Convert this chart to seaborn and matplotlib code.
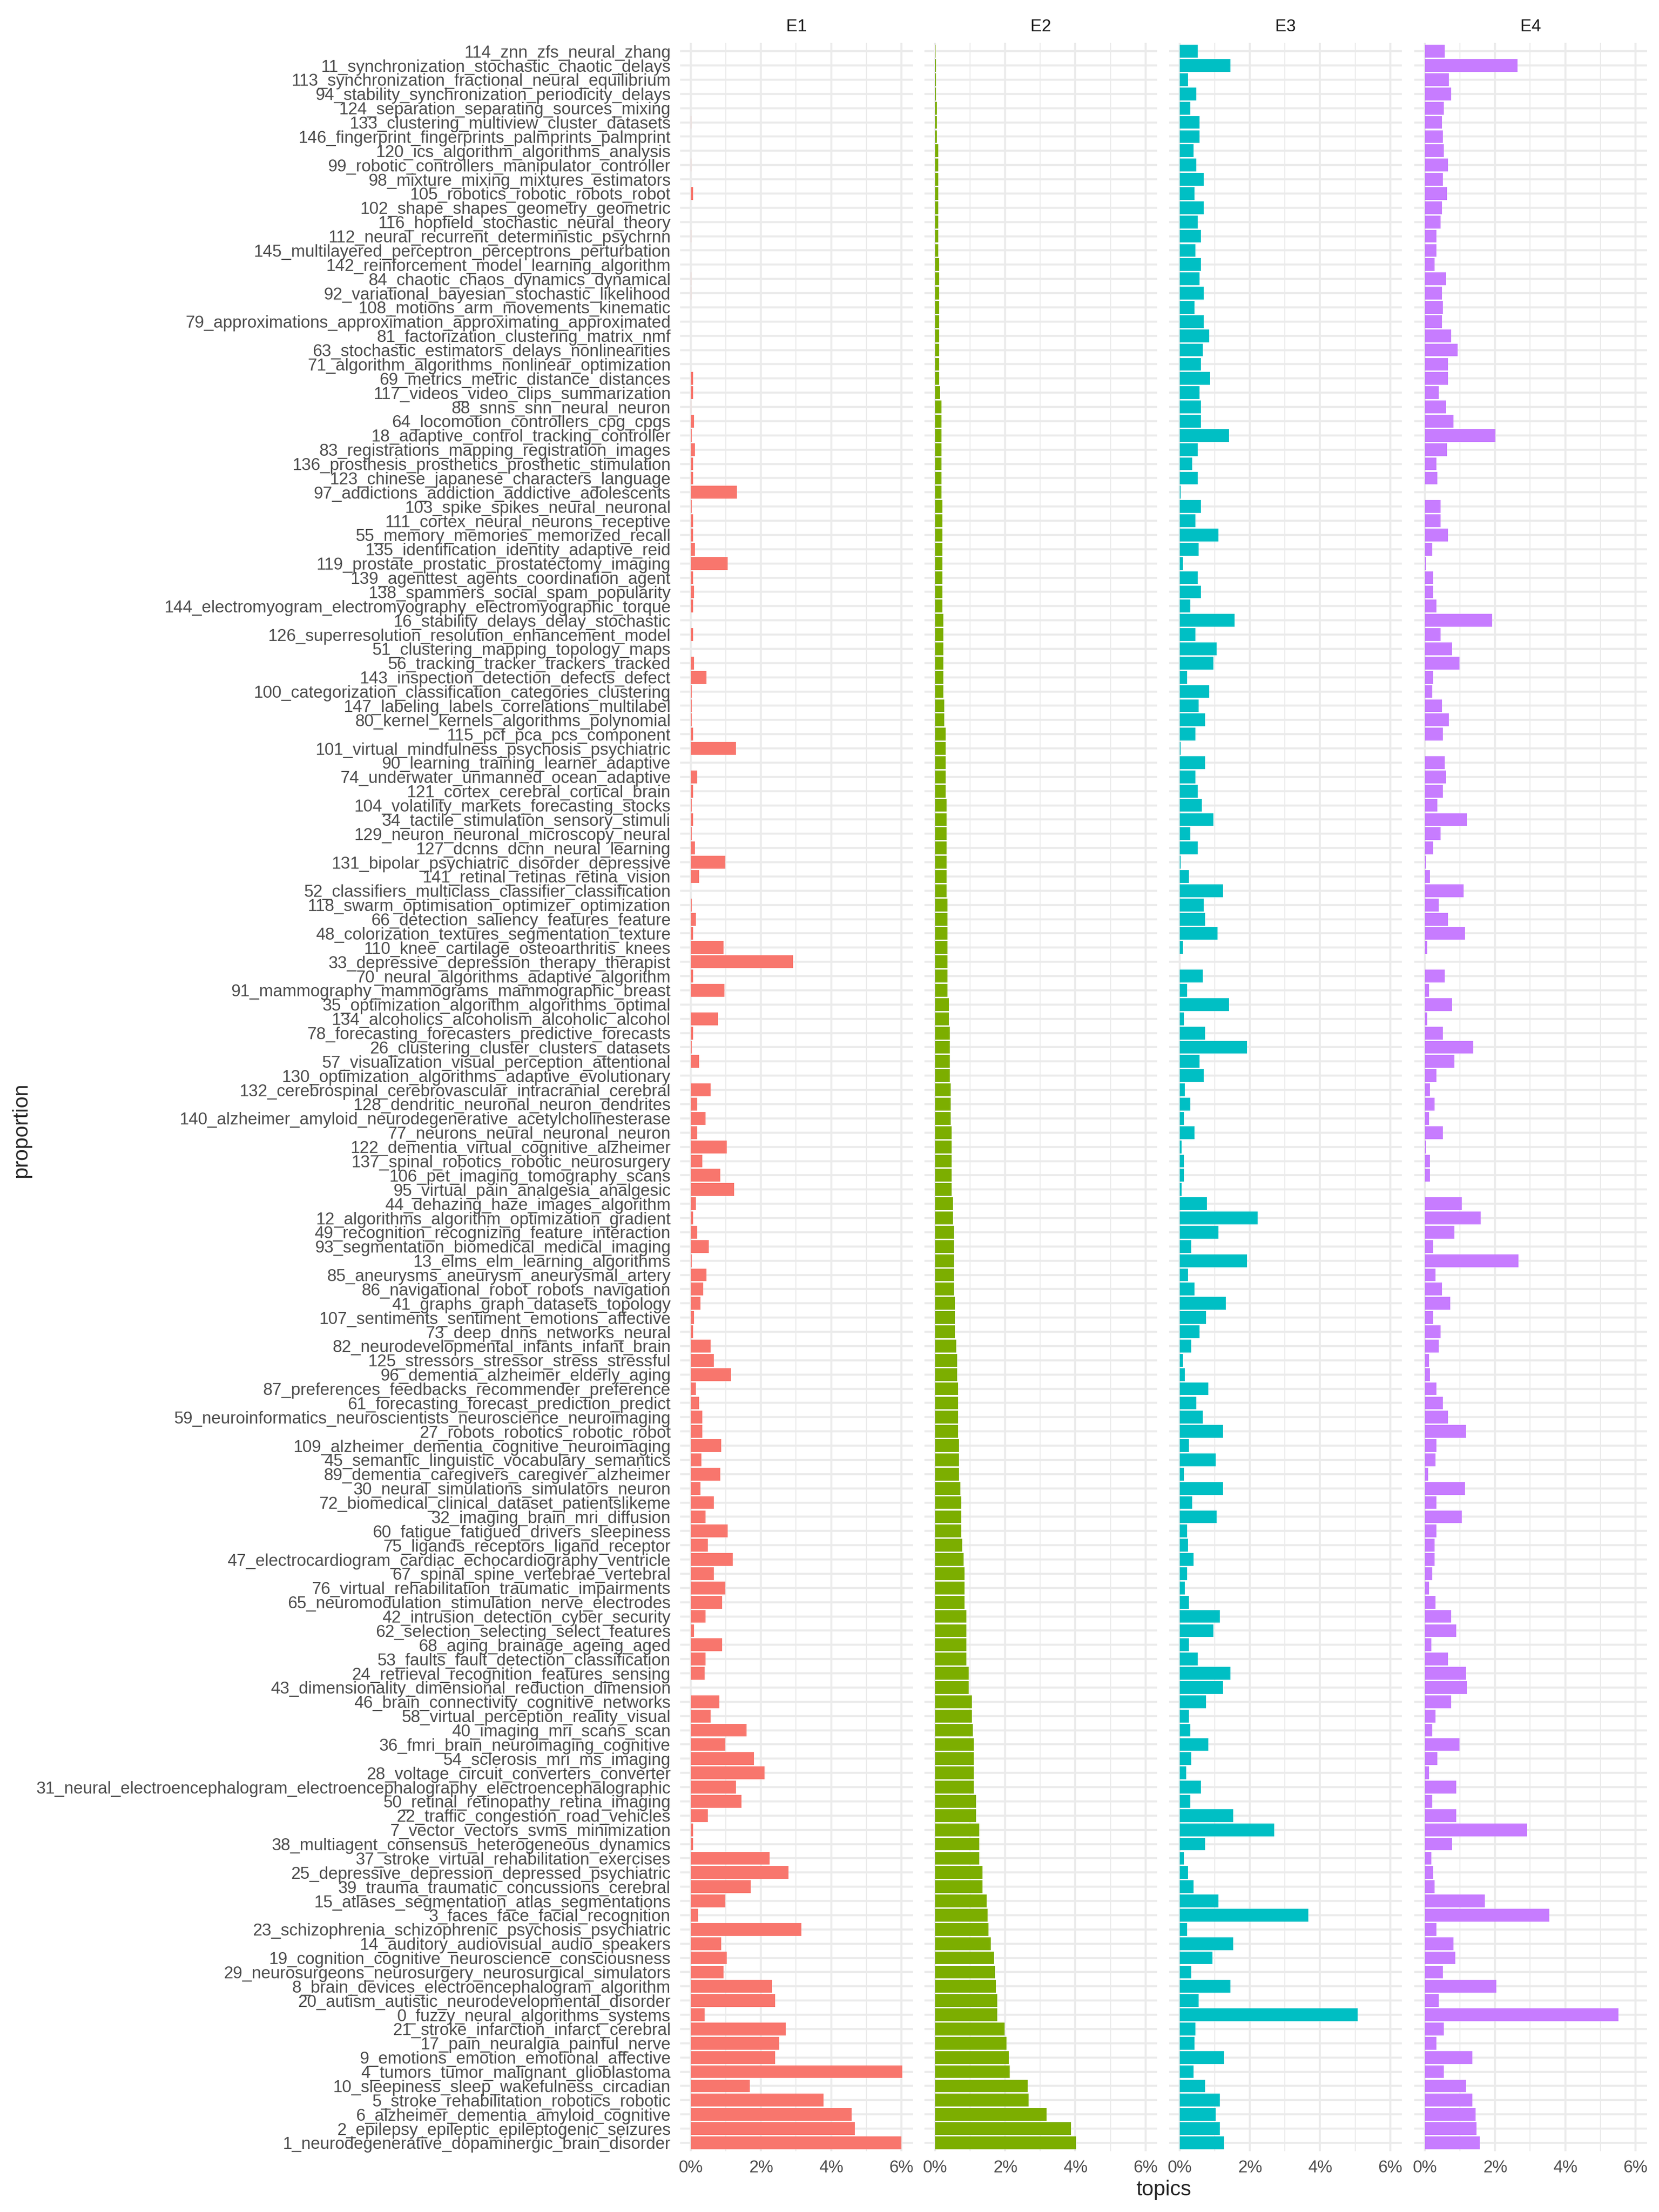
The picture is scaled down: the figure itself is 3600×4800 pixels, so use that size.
import pandas as pd
import seaborn as sns
import matplotlib.pyplot as plt
from matplotlib.ticker import FixedLocator, FuncFormatter

sns.set_theme(style="white")
plt.rcParams['font.family'] = ['Liberation Sans', 'DejaVu Sans']

# topics listed top -> bottom as they appear in the chart (ordered by E2)
topics = [
    '114_znn_zfs_neural_zhang', '11_synchronization_stochastic_chaotic_delays',
    '113_synchronization_fractional_neural_equilibrium', '94_stability_synchronization_periodicity_delays',
    '124_separation_separating_sources_mixing', '133_clustering_multiview_cluster_datasets',
    '146_fingerprint_fingerprints_palmprints_palmprint', '120_ics_algorithm_algorithms_analysis',
    '99_robotic_controllers_manipulator_controller', '98_mixture_mixing_mixtures_estimators',
    '105_robotics_robotic_robots_robot', '102_shape_shapes_geometry_geometric',
    '116_hopfield_stochastic_neural_theory', '112_neural_recurrent_deterministic_psychrnn',
    '145_multilayered_perceptron_perceptrons_perturbation', '142_reinforcement_model_learning_algorithm',
    '84_chaotic_chaos_dynamics_dynamical', '92_variational_bayesian_stochastic_likelihood',
    '108_motions_arm_movements_kinematic', '79_approximations_approximation_approximating_approximated',
    '81_factorization_clustering_matrix_nmf', '63_stochastic_estimators_delays_nonlinearities',
    '71_algorithm_algorithms_nonlinear_optimization', '69_metrics_metric_distance_distances',
    '117_videos_video_clips_summarization',
    '88_snns_snn_neural_neuron', '64_locomotion_controllers_cpg_cpgs',
    '18_adaptive_control_tracking_controller', '83_registrations_mapping_registration_images',
    '136_prosthesis_prosthetics_prosthetic_stimulation', '123_chinese_japanese_characters_language',
    '97_addictions_addiction_addictive_adolescents', '103_spike_spikes_neural_neuronal',
    '111_cortex_neural_neurons_receptive', '55_memory_memories_memorized_recall',
    '135_identification_identity_adaptive_reid', '119_prostate_prostatic_prostatectomy_imaging',
    '139_agenttest_agents_coordination_agent', '138_spammers_social_spam_popularity',
    '144_electromyogram_electromyography_electromyographic_torque', '16_stability_delays_delay_stochastic',
    '126_superresolution_resolution_enhancement_model', '51_clustering_mapping_topology_maps',
    '56_tracking_tracker_trackers_tracked', '143_inspection_detection_defects_defect',
    '100_categorization_classification_categories_clustering', '147_labeling_labels_correlations_multilabel',
    '80_kernel_kernels_algorithms_polynomial', '115_pcf_pca_pcs_component',
    '101_virtual_mindfulness_psychosis_psychiatric', '90_learning_training_learner_adaptive',
    '74_underwater_unmanned_ocean_adaptive', '121_cortex_cerebral_cortical_brain',
    '104_volatility_markets_forecasting_stocks', '34_tactile_stimulation_sensory_stimuli',
    '129_neuron_neuronal_microscopy_neural', '127_dcnns_dcnn_neural_learning',
    '131_bipolar_psychiatric_disorder_depressive', '141_retinal_retinas_retina_vision',
    '52_classifiers_multiclass_classifier_classification', '118_swarm_optimisation_optimizer_optimization',
    '66_detection_saliency_features_feature', '48_colorization_textures_segmentation_texture',
    '110_knee_cartilage_osteoarthritis_knees', '33_depressive_depression_therapy_therapist',
    '70_neural_algorithms_adaptive_algorithm', '91_mammography_mammograms_mammographic_breast',
    '35_optimization_algorithm_algorithms_optimal', '134_alcoholics_alcoholism_alcoholic_alcohol',
    '78_forecasting_forecasters_predictive_forecasts', '26_clustering_cluster_clusters_datasets',
    '57_visualization_visual_perception_attentional', '130_optimization_algorithms_adaptive_evolutionary',
    '132_cerebrospinal_cerebrovascular_intracranial_cerebral',
    '128_dendritic_neuronal_neuron_dendrites', '140_alzheimer_amyloid_neurodegenerative_acetylcholinesterase',
    '77_neurons_neural_neuronal_neuron', '122_dementia_virtual_cognitive_alzheimer',
    '137_spinal_robotics_robotic_neurosurgery', '106_pet_imaging_tomography_scans',
    '95_virtual_pain_analgesia_analgesic', '44_dehazing_haze_images_algorithm',
    '12_algorithms_algorithm_optimization_gradient', '49_recognition_recognizing_feature_interaction',
    '93_segmentation_biomedical_medical_imaging', '13_elms_elm_learning_algorithms',
    '85_aneurysms_aneurysm_aneurysmal_artery', '86_navigational_robot_robots_navigation',
    '41_graphs_graph_datasets_topology', '107_sentiments_sentiment_emotions_affective',
    '73_deep_dnns_networks_neural', '82_neurodevelopmental_infants_infant_brain',
    '125_stressors_stressor_stress_stressful', '96_dementia_alzheimer_elderly_aging',
    '87_preferences_feedbacks_recommender_preference', '61_forecasting_forecast_prediction_predict',
    '59_neuroinformatics_neuroscientists_neuroscience_neuroimaging', '27_robots_robotics_robotic_robot',
    '109_alzheimer_dementia_cognitive_neuroimaging',
    '45_semantic_linguistic_vocabulary_semantics', '89_dementia_caregivers_caregiver_alzheimer',
    '30_neural_simulations_simulators_neuron', '72_biomedical_clinical_dataset_patientslikeme',
    '32_imaging_brain_mri_diffusion', '60_fatigue_fatigued_drivers_sleepiness',
    '75_ligands_receptors_ligand_receptor', '47_electrocardiogram_cardiac_echocardiography_ventricle',
    '67_spinal_spine_vertebrae_vertebral', '76_virtual_rehabilitation_traumatic_impairments',
    '65_neuromodulation_stimulation_nerve_electrodes', '42_intrusion_detection_cyber_security',
    '62_selection_selecting_select_features', '68_aging_brainage_ageing_aged',
    '53_faults_fault_detection_classification', '24_retrieval_recognition_features_sensing',
    '43_dimensionality_dimensional_reduction_dimension', '46_brain_connectivity_cognitive_networks',
    '58_virtual_perception_reality_visual', '40_imaging_mri_scans_scan',
    '36_fmri_brain_neuroimaging_cognitive', '54_sclerosis_mri_ms_imaging',
    '28_voltage_circuit_converters_converter',
    '31_neural_electroencephalogram_electroencephalography_electroencephalographic',
    '50_retinal_retinopathy_retina_imaging', '22_traffic_congestion_road_vehicles',
    '7_vector_vectors_svms_minimization', '38_multiagent_consensus_heterogeneous_dynamics',
    '37_stroke_virtual_rehabilitation_exercises', '25_depressive_depression_depressed_psychiatric',
    '39_trauma_traumatic_concussions_cerebral', '15_atlases_segmentation_atlas_segmentations',
    '3_faces_face_facial_recognition', '23_schizophrenia_schizophrenic_psychosis_psychiatric',
    '14_auditory_audiovisual_audio_speakers', '19_cognition_cognitive_neuroscience_consciousness',
    '29_neurosurgeons_neurosurgery_neurosurgical_simulators', '8_brain_devices_electroencephalogram_algorithm',
    '20_autism_autistic_neurodevelopmental_disorder', '0_fuzzy_neural_algorithms_systems',
    '21_stroke_infarction_infarct_cerebral', '17_pain_neuralgia_painful_nerve',
    '9_emotions_emotion_emotional_affective', '4_tumors_tumor_malignant_glioblastoma',
    '10_sleepiness_sleep_wakefulness_circadian', '5_stroke_rehabilitation_robotics_robotic',
    '6_alzheimer_dementia_amyloid_cognitive', '2_epilepsy_epileptic_epileptogenic_seizures',
    '1_neurodegenerative_dopaminergic_brain_disorder',
]

# proportions in percent
e1 = [0, 0, 0, 0, 0, 0.02, 0, 0, 0.02, 0, 0.06, 0, 0, 0.02, 0, 0, 0.02, 0.02, 0, 0, 0, 0, 0, 0.06, 0.06,
      0.02, 0.09, 0.03, 0.12, 0.06, 0.06, 1.32, 0.03, 0.06, 0.06, 0.12, 1.05, 0.06, 0.09, 0.06, 0, 0.06, 0,
      0.09, 0.45, 0.03, 0.03, 0.03, 0.06,
      1.29, 0, 0.18, 0.06, 0.03, 0.06, 0.03, 0.12, 0.99, 0.24, 0, 0.03, 0.15, 0.06, 0.93, 2.91, 0.06, 0.96,
      0, 0.78, 0.06, 0.03, 0.24, 0, 0.57,
      0.18, 0.42, 0.18, 1.02, 0.33, 0.84, 1.23, 0.15, 0.06, 0.18, 0.51, 0.03, 0.45, 0.36, 0.27, 0.09, 0.06,
      0.57, 0.66, 1.14, 0.15, 0.24, 0.33, 0.33, 0.87,
      0.30, 0.84, 0.27, 0.66, 0.42, 1.05, 0.48, 1.20, 0.66, 0.99, 0.90, 0.42, 0.09, 0.90, 0.42, 0.39, 0,
      0.81, 0.57, 1.59, 0.99, 1.80, 2.10, 1.29,
      1.44, 0.48, 0.06, 0.06, 2.25, 2.79, 1.71, 0.99, 0.21, 3.15, 0.87, 1.02, 0.93, 2.31, 2.40, 0.39, 2.70,
      2.52, 2.40, 6.03, 1.68, 3.78, 4.59, 4.68, 6.00]

e2 = [0.01, 0.03, 0.03, 0.03, 0.06, 0.06, 0.06, 0.09, 0.09, 0.09, 0.09, 0.09, 0.09, 0.09, 0.09, 0.12,
      0.12, 0.12, 0.12, 0.12, 0.12, 0.12, 0.12, 0.12, 0.15,
      0.18, 0.18, 0.18, 0.18, 0.18, 0.18, 0.18, 0.21, 0.21, 0.21, 0.21, 0.21, 0.21, 0.21, 0.21, 0.24, 0.24,
      0.24, 0.24, 0.24, 0.24, 0.27, 0.27, 0.30,
      0.30, 0.30, 0.30, 0.30, 0.33, 0.33, 0.33, 0.33, 0.33, 0.33, 0.33, 0.36, 0.36, 0.36, 0.36, 0.36, 0.36,
      0.36, 0.39, 0.39, 0.42, 0.42, 0.42, 0.42, 0.45,
      0.45, 0.45, 0.48, 0.48, 0.48, 0.48, 0.48, 0.51, 0.51, 0.54, 0.54, 0.54, 0.54, 0.54, 0.57, 0.57, 0.57,
      0.60, 0.63, 0.63, 0.66, 0.66, 0.66, 0.66, 0.69,
      0.69, 0.69, 0.72, 0.75, 0.75, 0.75, 0.78, 0.81, 0.84, 0.84, 0.84, 0.90, 0.90, 0.90, 0.90, 0.96, 0.96,
      1.05, 1.05, 1.08, 1.11, 1.11, 1.11, 1.11,
      1.17, 1.17, 1.26, 1.26, 1.26, 1.35, 1.35, 1.47, 1.50, 1.53, 1.59, 1.68, 1.71, 1.74, 1.77, 1.77, 1.98,
      2.04, 2.10, 2.13, 2.64, 2.67, 3.18, 3.87, 4.02]

e3 = [0.51, 1.44, 0.24, 0.48, 0.30, 0.57, 0.57, 0.39, 0.48, 0.69, 0.42, 0.69, 0.51, 0.60, 0.45, 0.60,
      0.57, 0.69, 0.42, 0.69, 0.84, 0.66, 0.60, 0.87, 0.57,
      0.60, 0.60, 1.41, 0.51, 0.36, 0.51, 0.03, 0.60, 0.45, 1.11, 0.54, 0.09, 0.51, 0.60, 0.30, 1.56, 0.45,
      1.05, 0.96, 0.21, 0.84, 0.54, 0.72, 0.45,
      0.03, 0.72, 0.45, 0.51, 0.63, 0.96, 0.30, 0.51, 0.03, 0.27, 1.23, 0.69, 0.72, 1.08, 0.09, 0, 0.66,
      0.21, 1.41, 0.12, 0.72, 1.92, 0.57, 0.69, 0.15,
      0.30, 0.12, 0.42, 0.06, 0.12, 0.12, 0.06, 0.78, 2.22, 1.11, 0.33, 1.92, 0.24, 0.42, 1.32, 0.75, 0.57,
      0.33, 0.09, 0.15, 0.81, 0.48, 0.66, 1.23, 0.27,
      1.02, 0.12, 1.23, 0.36, 1.05, 0.21, 0.24, 0.39, 0.21, 0.15, 0.27, 1.14, 0.96, 0.27, 0.51, 1.44, 1.23,
      0.75, 0.27, 0.30, 0.81, 0.33, 0.18, 0.60,
      0.30, 1.53, 2.70, 0.72, 0.12, 0.24, 0.39, 1.11, 3.66, 0.21, 1.53, 0.93, 0.33, 1.44, 0.54, 5.07, 0.45,
      0.42, 1.26, 0.39, 0.72, 1.14, 1.02, 1.14, 1.26]

e4 = [0.57, 2.64, 0.69, 0.75, 0.54, 0.48, 0.51, 0.54, 0.66, 0.51, 0.63, 0.48, 0.45, 0.33, 0.33, 0.27,
      0.60, 0.48, 0.51, 0.48, 0.75, 0.93, 0.66, 0.66, 0.39,
      0.60, 0.81, 2.01, 0.63, 0.33, 0.36, 0, 0.45, 0.45, 0.66, 0.21, 0.03, 0.24, 0.24, 0.33, 1.92, 0.45,
      0.78, 0.99, 0.24, 0.21, 0.48, 0.69, 0.51,
      0, 0.57, 0.60, 0.51, 0.36, 1.20, 0.45, 0.24, 0.03, 0.15, 1.11, 0.39, 0.66, 1.14, 0.06, 0, 0.57, 0.12,
      0.78, 0.06, 0.51, 1.38, 0.84, 0.33, 0.15,
      0.27, 0.12, 0.51, 0.03, 0.15, 0.15, 0, 1.05, 1.59, 0.84, 0.24, 2.67, 0.30, 0.48, 0.72, 0.24, 0.45,
      0.39, 0.12, 0.15, 0.33, 0.51, 0.66, 1.17, 0.33,
      0.30, 0.09, 1.14, 0.33, 1.05, 0.33, 0.27, 0.27, 0.21, 0.12, 0.30, 0.75, 0.90, 0.18, 0.66, 1.17, 1.20,
      0.75, 0.30, 0.21, 0.99, 0.36, 0.12, 0.90,
      0.21, 0.90, 2.91, 0.78, 0.18, 0.24, 0.27, 1.71, 3.54, 0.33, 0.81, 0.87, 0.51, 2.04, 0.39, 5.52, 0.54,
      0.33, 1.35, 0.54, 1.17, 1.35, 1.44, 1.47, 1.56]

groups = ['E1', 'E2', 'E3', 'E4']
colors = ['#F8766D', '#7CAE00', '#00BFC4', '#C77CFF']

df = pd.DataFrame({'topic': topics, 'E1': e1, 'E2': e2, 'E3': e3, 'E4': e4})
long = df.melt(id_vars='topic', var_name='group', value_name='share')

xmax = long['share'].max()
n = len(topics)

fig = plt.figure(figsize=(12, 16), dpi=300)
lefts = [0.410, 0.5572, 0.7047, 0.8525]
bottom, height, width = 0.0274, 0.9533, 0.1403

for i, g in enumerate(groups):
    ax = fig.add_axes([lefts[i], bottom, width, height])
    sub = long[long['group'] == g]
    sns.barplot(data=sub, x='share', y='topic', order=topics, color=colors[i],
                saturation=1, width=0.9, orient='h', ax=ax, linewidth=0)
    ax.set_xlim(-0.05 * xmax, 1.05 * xmax)
    ax.set_ylim(n - 0.4, -0.6)
    ax.set_axisbelow(True)
    ax.xaxis.set_major_locator(FixedLocator([0, 2, 4, 6]))
    ax.xaxis.set_minor_locator(FixedLocator([1, 3, 5]))
    ax.xaxis.set_major_formatter(FuncFormatter(lambda v, p: f'{v:.0f}%'))
    ax.grid(which='major', axis='both', color='#EBEBEB', linewidth=1.07)
    ax.grid(which='minor', axis='x', color='#EBEBEB', linewidth=0.53)
    for s in ax.spines.values():
        s.set_visible(False)
    ax.tick_params(axis='both', which='both', length=0, labelsize=8.8, labelcolor='#4D4D4D')
    ax.tick_params(axis='x', pad=4.5)
    ax.tick_params(axis='y', pad=5)
    if i > 0:
        ax.tick_params(axis='y', labelleft=False)
    ax.set_xlabel('')
    ax.set_ylabel('')
    ax.set_title(g, fontsize=8.8, color='#1A1A1A', pad=6)

fig.text((lefts[0] + lefts[3] + width) / 2, 1 - 4752 / 4800, 'topics', ha='center', va='center', fontsize=11)
fig.text(0.0128, 0.489, 'proportion', ha='center', va='center', rotation=90, fontsize=11)

fig.savefig('out.png', dpi=300)
